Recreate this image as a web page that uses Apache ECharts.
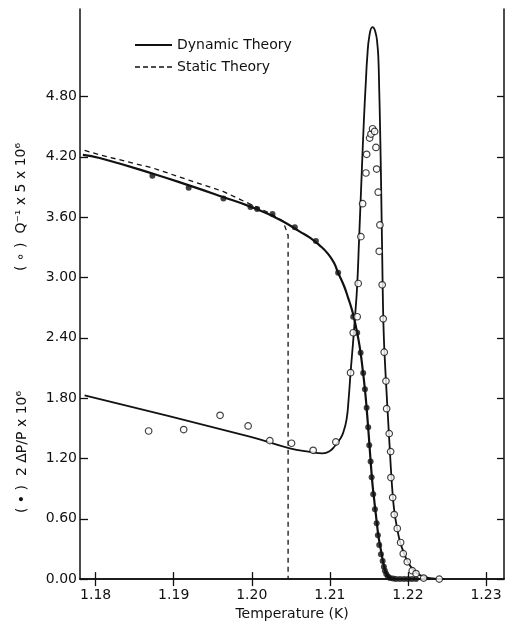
<!DOCTYPE html>
<html>
<head>
<meta charset="utf-8">
<script src="https://cdn.jsdelivr.net/npm/echarts@6/dist/echarts.min.js"></script>
<style>
  html, body { margin: 0; padding: 0; background: #fff; }
  #chart { width: 508px; height: 626px; }
</style>
</head>
<body>
<div id="chart"></div>
<script>
// tick values
const xTicks = [1.18, 1.19, 1.20, 1.21, 1.22, 1.23];
const yTicks = [0, 0.6, 1.2, 1.8, 2.4, 3.0, 3.6, 4.2, 4.8];

// dynamic theory, 2 dP/P curve (upper branch)
const dpTheory = [
    [1.17837, 4.220], [1.18051, 4.188], [1.18735, 4.032], [1.19205, 3.913],
    [1.19632, 3.800], [1.19974, 3.707], [1.20359, 3.575], [1.20615, 3.456],
    [1.20744, 3.396], [1.20872, 3.317], [1.20974, 3.237], [1.21051, 3.148],
    [1.21106, 3.046], [1.21179, 2.920], [1.21235, 2.795], [1.21276, 2.696],
    [1.21308, 2.602], [1.21333, 2.512], [1.21359, 2.413], [1.21391, 2.264],
    [1.21423, 2.066], [1.21449, 1.887], [1.21471, 1.698], [1.21491, 1.500],
    [1.21509, 1.311], [1.21528, 1.112], [1.21546, 0.943], [1.21567, 0.794],
    [1.21587, 0.655], [1.21606, 0.526], [1.21624, 0.417], [1.21644, 0.328],
    [1.21663, 0.248], [1.21679, 0.179], [1.21699, 0.114], [1.21718, 0.065],
    [1.21744, 0.025], [1.21782, 0.005], [1.21846, 0.0], [1.22282, 0.0]
];

// dynamic theory, Q^-1 curve (peak)
const qTheory = [
    [1.17859, 1.827], [1.19974, 1.417], [1.20487, 1.301], [1.20744, 1.266],
    [1.20910, 1.251], [1.21000, 1.274], [1.21064, 1.324], [1.21128, 1.390],
    [1.21171, 1.457], [1.21214, 1.589], [1.21240, 1.787], [1.21265, 2.053],
    [1.21295, 2.334], [1.21321, 2.599], [1.21349, 2.910], [1.21374, 3.376],
    [1.21401, 3.903], [1.21436, 4.568], [1.21462, 4.965], [1.21478, 5.184],
    [1.21506, 5.402], [1.21545, 5.489], [1.21583, 5.442], [1.21609, 5.313],
    [1.21622, 5.164], [1.21632, 4.866], [1.21641, 4.568], [1.21654, 4.022],
    [1.21663, 3.575], [1.21671, 3.178], [1.21679, 2.781], [1.21690, 2.433],
    [1.21705, 2.165], [1.21724, 1.887], [1.21744, 1.609], [1.21763, 1.351],
    [1.21782, 1.092], [1.21804, 0.844], [1.21827, 0.665], [1.21859, 0.516],
    [1.21897, 0.377], [1.21949, 0.258], [1.22000, 0.169], [1.22077, 0.084],
    [1.22154, 0.040], [1.22282, 0.010], [1.22474, 0.0]
];

// static theory (dashed), drops at its transition temperature
const staticTheory = [
    [1.17859, 4.263], [1.18051, 4.220], [1.18735, 4.088], [1.19205, 3.965],
    [1.19632, 3.856], [1.19930, 3.747], [1.20065, 3.700], [1.20265, 3.625],
    [1.20400, 3.560], [1.20465, 3.420], [1.20465, 0.0]
];

// measured 2 dP/P (filled dots)
const dpData = [
    [1.18727, 4.012], [1.19192, 3.893], [1.19637, 3.786], [1.19983, 3.701],
    [1.20068, 3.681], [1.20265, 3.632], [1.20551, 3.499], [1.20821, 3.363],
    [1.21106, 3.046], [1.21299, 2.609], [1.21350, 2.450], [1.21394, 2.250],
    [1.21427, 2.050], [1.21449, 1.887], [1.21471, 1.705], [1.21491, 1.510],
    [1.21504, 1.330], [1.21522, 1.170], [1.21535, 1.013], [1.21555, 0.844],
    [1.21577, 0.695], [1.21599, 0.556], [1.21615, 0.437], [1.21632, 0.338],
    [1.21654, 0.248], [1.21676, 0.179], [1.21692, 0.124], [1.21705, 0.084],
    [1.21722, 0.050], [1.21744, 0.025], [1.21769, 0.010], [1.21808, 0.005],
    [1.21846, 0.0], [1.21897, 0.0], [1.21949, 0.0], [1.22000, 0.0],
    [1.22051, 0.0], [1.22103, 0.0], [1.22196, -0.02], [1.22401, -0.02]
];

// measured Q^-1 x 5 (open circles)
const qData = [
    [1.18679, 1.473], [1.19128, 1.487], [1.19594, 1.629], [1.19953, 1.523],
    [1.20231, 1.377], [1.20509, 1.351], [1.20786, 1.281], [1.21077, 1.364],
    [1.21265, 2.053], [1.21299, 2.450], [1.21350, 2.609], [1.21363, 2.940],
    [1.21397, 3.406], [1.21419, 3.734], [1.21462, 4.039], [1.21471, 4.225],
    [1.21509, 4.386], [1.21526, 4.426], [1.21547, 4.479], [1.21573, 4.452],
    [1.21590, 4.293], [1.21599, 4.078], [1.21619, 3.848], [1.21641, 3.522],
    [1.21632, 3.260], [1.21670, 2.927], [1.21683, 2.589], [1.21696, 2.257],
    [1.21718, 1.969], [1.21727, 1.695], [1.21760, 1.447], [1.21778, 1.268],
    [1.21782, 1.010], [1.21804, 0.811], [1.21824, 0.642], [1.21863, 0.503],
    [1.21906, 0.364], [1.21940, 0.253], [1.21991, 0.172], [1.22055, 0.084],
    [1.22103, 0.055], [1.22201, 0.010], [1.22401, 0.0]
];

const ink = '#111';
const font = 'DejaVu Sans';

var myChart = echarts.init(document.getElementById('chart'));
var option;

const axisBase = {
    axisLine: { show: true, lineStyle: { color: ink, width: 1.5 } },
    splitLine: { show: false }
};

option = {
    backgroundColor: '#fff',
    animation: false,
    textStyle: { fontFamily: font, color: ink },
    grid: { left: 80, right: 4, top: 9, bottom: 46 },
    xAxis: [
        Object.assign({}, axisBase, {
            type: 'value',
            min: 1.178,
            max: 1.2323,
            name: 'Temperature (K)',
            nameLocation: 'middle',
            nameGap: 25,
            nameTextStyle: { fontFamily: font, fontSize: 14, color: ink },
            axisTick: { show: true, inside: true, length: 7, customValues: xTicks, lineStyle: { color: ink, width: 1.3 } },
            axisLabel: {
                customValues: xTicks, margin: 9, fontFamily: font, fontSize: 14, color: ink,
                formatter: v => v.toFixed(2)
            }
        }),
        Object.assign({}, axisBase, {
            type: 'value',
            position: 'top',
            min: 1.178,
            max: 1.2323,
            axisTick: { show: true, inside: true, length: 7, customValues: xTicks, lineStyle: { color: ink, width: 1.3 } },
            axisLabel: { show: false }
        })
    ],
    yAxis: [
        Object.assign({}, axisBase, {
            type: 'value',
            min: 0,
            max: 5.67,
            interval: 0.6,
            axisTick: { show: true, inside: true, length: 8, customValues: yTicks, lineStyle: { color: ink, width: 1.3 } },
            axisLabel: {
                customValues: yTicks, margin: 3, fontFamily: font, fontSize: 14, color: ink,
                formatter: v => v.toFixed(2)
            }
        }),
        Object.assign({}, axisBase, {
            type: 'value',
            position: 'right',
            min: 0,
            max: 5.67,
            interval: 0.6,
            axisTick: { show: true, inside: true, length: 7, customValues: yTicks, lineStyle: { color: ink, width: 1.3 } },
            axisLabel: { show: false }
        })
    ],
    graphic: [
        // legend
        { type: 'line', shape: { x1: 135, y1: 45, x2: 172, y2: 45 }, style: { stroke: ink, lineWidth: 2 } },
        {
            type: 'text', x: 177, y: 45,
            style: { text: 'Dynamic Theory', fontFamily: font, fontSize: 14, fill: ink, textVerticalAlign: 'middle' }
        },
        { type: 'line', shape: { x1: 135, y1: 67, x2: 172, y2: 67 }, style: { stroke: ink, lineWidth: 1.3, lineDash: [5, 3] } },
        {
            type: 'text', x: 177, y: 67,
            style: { text: 'Static Theory', fontFamily: font, fontSize: 14, fill: ink, textVerticalAlign: 'middle' }
        },
        // y axis titles
        {
            type: 'text', x: 21, y: 207, rotation: Math.PI / 2,
            style: {
                text: '( \u2218 )  Q\u207B\u00B9 x 5 x 10\u2076',
                fontFamily: font, fontSize: 14, fill: ink,
                textAlign: 'center', textVerticalAlign: 'middle'
            }
        },
        {
            type: 'text', x: 22, y: 452, rotation: Math.PI / 2,
            style: {
                text: '( \u2022 )  2 \u0394P/P x 10\u2076',
                fontFamily: font, fontSize: 14, fill: ink,
                textAlign: 'center', textVerticalAlign: 'middle'
            }
        }
    ],
    series: [
        {
            name: 'Dynamic Theory',
            type: 'line',
            data: dpTheory,
            showSymbol: false,
            symbol: 'none',
            smooth: 0.5,
            lineStyle: { color: ink, width: 2.2 },
            z: 3
        },
        {
            name: 'Dynamic Theory Q',
            type: 'line',
            data: qTheory,
            showSymbol: false,
            symbol: 'none',
            smooth: 0.5,
            lineStyle: { color: ink, width: 1.8 },
            z: 3
        },
        {
            name: 'Static Theory',
            type: 'line',
            data: staticTheory,
            showSymbol: false,
            symbol: 'none',
            lineStyle: { color: ink, width: 1.3, type: [5, 4] },
            z: 2
        },
        {
            name: 'dP data',
            type: 'scatter',
            data: dpData,
            symbol: 'circle',
            symbolSize: 6,
            itemStyle: { color: ink },
            z: 5
        },
        {
            name: 'Q data',
            type: 'scatter',
            data: qData,
            symbol: 'circle',
            symbolSize: 6.5,
            itemStyle: { color: '#fff', borderColor: ink, borderWidth: 1.2 },
            z: 6
        }
    ]
};

option && myChart.setOption(option);
</script>
</body>
</html>
